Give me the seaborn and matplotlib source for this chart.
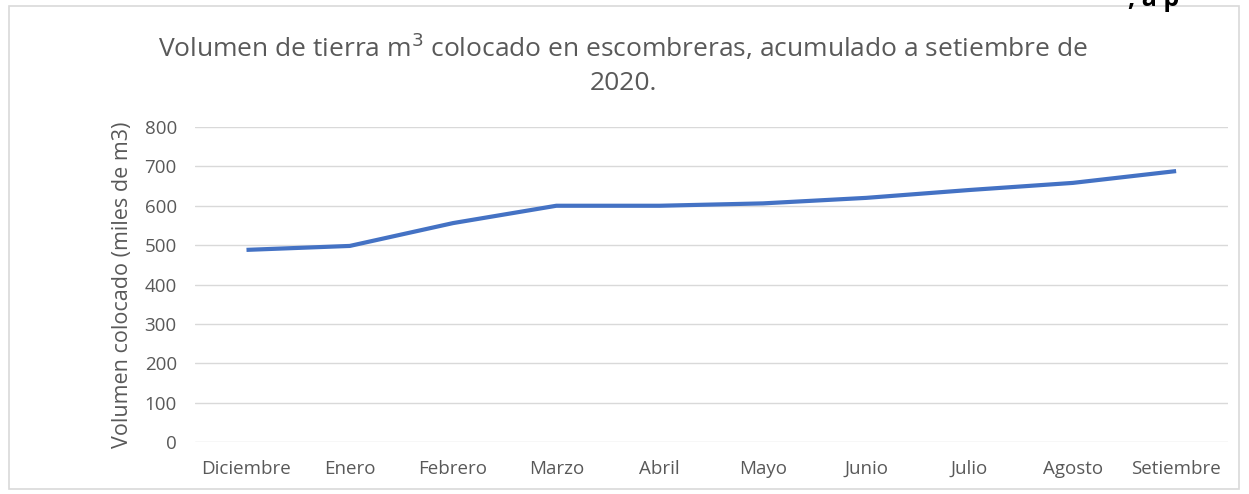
import matplotlib
matplotlib.use("Agg")
import matplotlib.pyplot as plt
import seaborn as sns
import pandas as pd
from matplotlib.patches import Rectangle

months = ["Diciembre", "Enero", "Febrero", "Marzo", "Abril", "Mayo",
          "Junio", "Julio", "Agosto", "Setiembre"]
volumes = [488, 498, 556, 600, 600, 606, 620, 640, 658, 688]
y_ticks = [0, 100, 200, 300, 400, 500, 600, 700, 800]

sns.set_theme(style="white")
FONT = ['Open Sans', 'DejaVu Sans']
plt.rcParams['font.family'] = FONT

df = pd.DataFrame({"mes": months, "vol": volumes, "x": range(len(months))})

fig = plt.figure(figsize=(12.49, 4.94), dpi=100)
ax = fig.add_axes([0.156, 0.105, 0.827, 0.638])

sns.lineplot(data=df, x="x", y="vol", ax=ax, color="#4472C4", linewidth=3.0,
             solid_capstyle="butt")

ax.set_xlim(-0.5, len(months) - 0.5)
ax.set_ylim(0, 800)
ax.set_yticks(y_ticks)
ax.set_yticklabels([str(v) for v in y_ticks])
ax.set_xticks(range(len(months)))
ax.set_xticklabels(months)
ax.yaxis.grid(True, color="#d9d9d9", linewidth=1)
ax.set_axisbelow(True)
for s in ax.spines.values():
    s.set_visible(False)
ax.tick_params(axis="both", length=0, colors="#595959", labelsize=13.5)
ax.tick_params(axis="x", pad=13)
ax.tick_params(axis="y", pad=13)
ax.set_xlabel("")
ax.set_ylabel("Volumen colocado (miles de m3)", color="#595959", fontsize=15.5, labelpad=8)

fig.text(0.499, 0.905, r"Volumen de tierra m$^{3}$ colocado en escombreras, acumulado a setiembre de",
         ha="center", va="center", fontsize=19, color="#595959")
fig.text(0.499, 0.83, "2020.", ha="center", va="center", fontsize=19, color="#595959")

fig.text(0.903, 1.0, ", a p", ha="left", va="center", fontsize=18,
         fontweight="bold", color="black")

border = Rectangle((0.007, 0.01), 0.985, 0.978, transform=fig.transFigure,
                   fill=False, edgecolor="#d9d9d9", linewidth=1.2)
fig.add_artist(border)

fig.savefig("out.png", dpi=100, facecolor="white")
